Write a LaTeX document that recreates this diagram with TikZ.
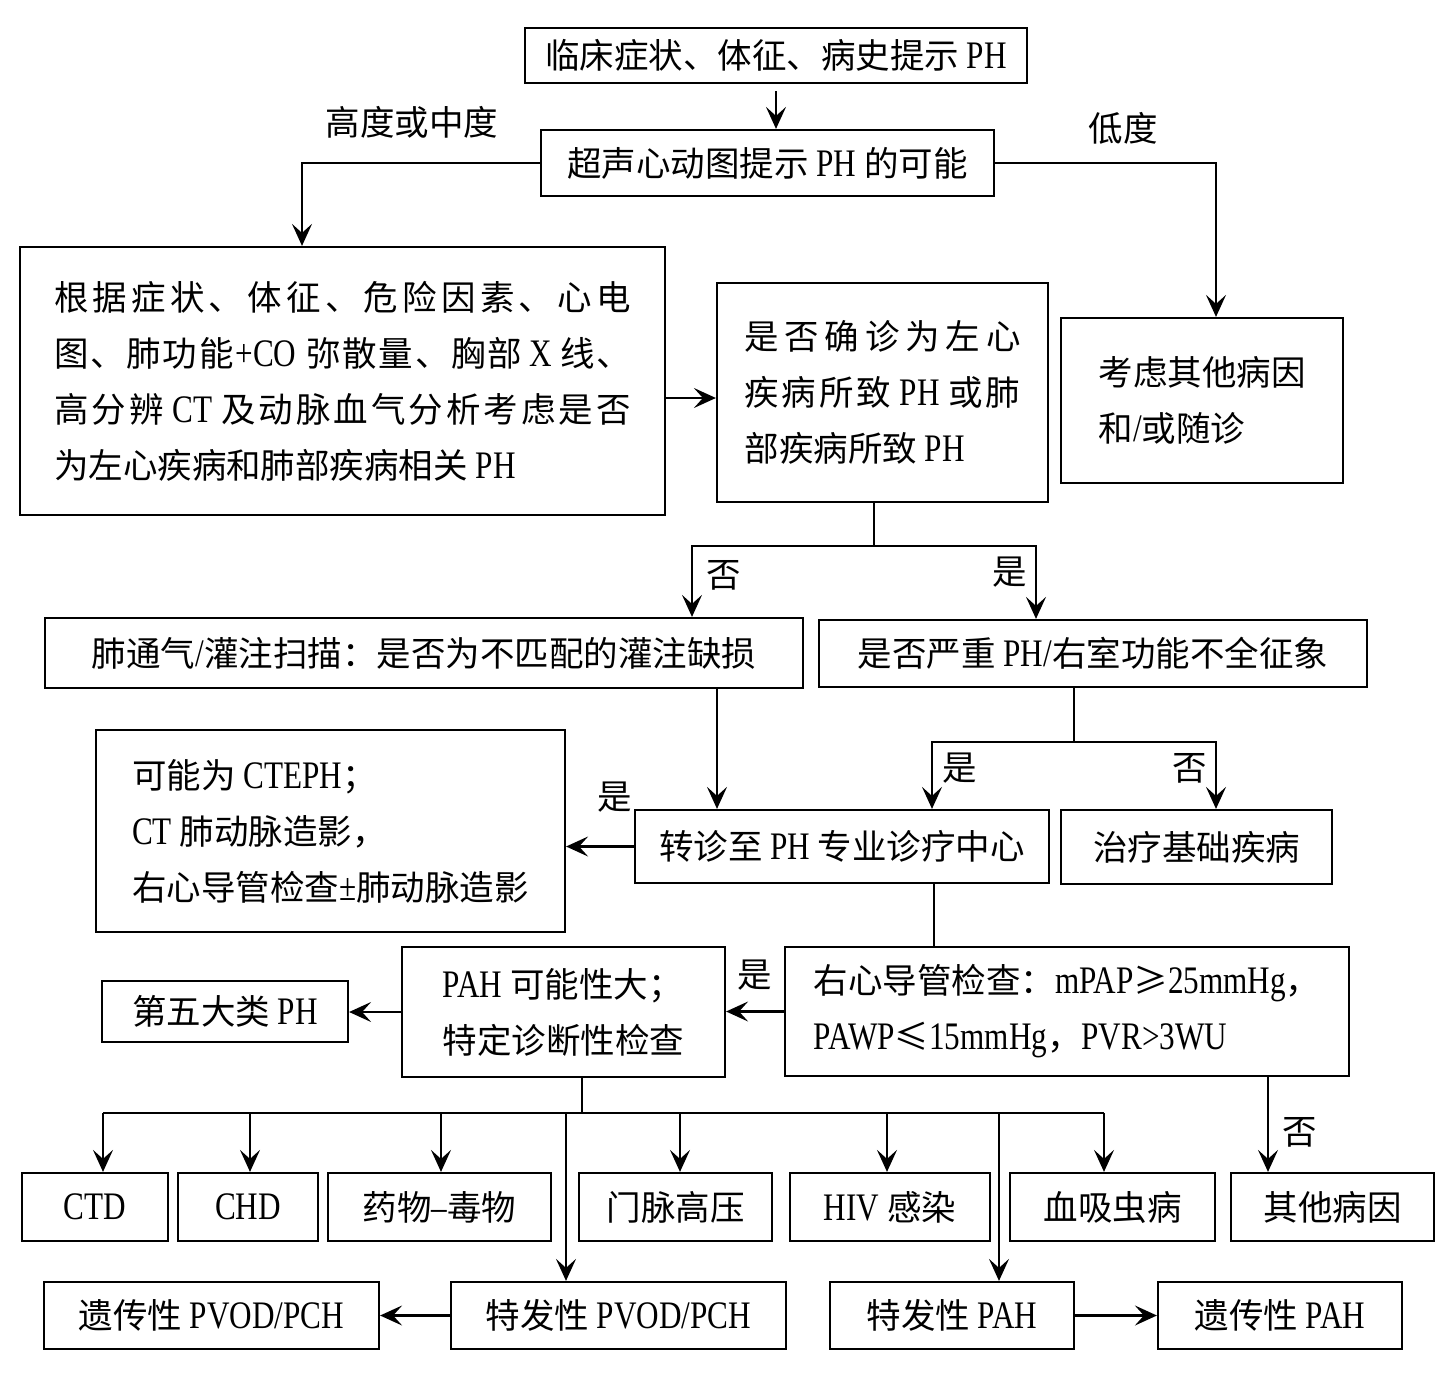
\documentclass[tikz,border=0pt]{standalone}
\usepackage{fontspec}
\setmainfont{Noto Sans CJK SC}
\newfontfamily\latf{Liberation Serif}[FakeStretch=0.8,Scale=1.13]
\newcommand\lt[1]{{\latf #1}}
\newcommand\spc[1]{\hskip6pt\lt{#1}\hskip6pt}
\usetikzlibrary{arrows.meta,calc}
\def\spreadaux#1{\ifx\relax#1\else{#1}\hfil\expandafter\spreadaux\fi}
\newcommand\spreadline[2]{\hbox to #1{\spreadaux#2\relax\unskip}}
\begin{document}
\begin{tikzpicture}[x=1pt,y=-1pt,
  every node/.style={font=\fontsize{34.5}{56}\selectfont},
  box/.style={draw,line width=2.2pt,inner sep=0pt,align=center},
  bx/.style n args={2}{box,minimum width=#1,minimum height=#2},
  arr/.style={line width=2.2pt,-{Stealth[length=22pt,width=20pt,inset=9pt]}},
  ln/.style={line width=2.2pt},
  lbl/.style={inner sep=0pt}]
\fill[white] (0,0) rectangle (1452,1384);
\useasboundingbox (0,0) rectangle (1452,1384);

% boxes
\node[bx={502}{55}] (b1) at (776,55.5) {临床症状、体征、病史提示 \lt{PH}};
\node[bx={453}{66}] (b2) at (767.5,163) {超声心动图提示 \lt{PH} 的可能};
\node[bx={645}{268},align=left] (b3) at (342.5,381) {\spreadline{577pt}{根据症状、体征、危险因素、心电}\\\spreadline{577pt}{图、肺功能{\hskip0pt\lt{+CO}\hskip8pt}弥散量、胸部{\spc{X}}线、}\\\spreadline{577pt}{高分辨{\spc{CT}}及动脉血气分析考虑是否}\\为左心疾病和肺部疾病相关 \lt{PH}};
\node[bx={331}{219},align=left] (b4) at (882.5,392.5) {\spreadline{276pt}{是否确诊为左心}\\\spreadline{276pt}{疾病所致{\spc{PH}}或肺}\\部疾病所致 \lt{PH}};
\node[bx={282}{165},align=left] (b5) at (1202,400.5) {考虑其他病因\\和\lt{/}或随诊};
\node[bx={758}{70}] (b6) at (424,653) {肺通气\lt{/}灌注扫描：是否为不匹配的灌注缺损};
\node[bx={548}{67}] (b7) at (1093,653.5) {是否严重 \lt{PH/}右室功能不全征象};
\node[bx={469}{202},align=left] (b8) at (330.5,831) {可能为 \lt{CTEPH}；\\\lt{CT} 肺动脉造影，\\右心导管检查\lt{±}肺动脉造影};
\node[bx={414}{73}] (b9) at (842,846.5) {转诊至 \lt{PH} 专业诊疗中心};
\node[bx={271}{74}] (b10) at (1196.5,847) {治疗基础疾病};
\node[bx={246}{61}] (b11) at (225,1011.5) {第五大类 \lt{PH}};
\node[bx={323}{130},align=left] (b12) at (563.5,1012) {\lt{PAH} 可能性大；\\特定诊断性检查};
\node[bx={564}{129},align=left] (b13) at (1067,1011.5) {右心导管检查：\lt{mPAP}≥\lt{25mmHg}，\\\lt{PAWP}≤\lt{15mmHg}，\lt{PVR>3WU}};

\node[bx={146}{68}] (r1) at (95,1207) {\lt{CTD}};
\node[bx={140}{68}] (r2) at (248,1207) {\lt{CHD}};
\node[bx={223}{68}] (r3) at (439.5,1207) {药物\lt{–}毒物};
\node[bx={193}{68}] (r4) at (675.5,1207) {门脉高压};
\node[bx={200}{68}] (r5) at (890,1207) {\lt{HIV} 感染};
\node[bx={205}{68}] (r6) at (1112.5,1207) {血吸虫病};
\node[bx={203}{68}] (r7) at (1332.5,1207) {其他病因};

\node[bx={335}{67}] (p1) at (211.5,1315.5) {遗传性 \lt{PVOD/PCH}};
\node[bx={335}{67}] (p2) at (618.5,1315.5) {特发性 \lt{PVOD/PCH}};
\node[bx={244}{67}] (p3) at (952,1315.5) {特发性 \lt{PAH}};
\node[bx={244}{67}] (p4) at (1280,1315.5) {遗传性 \lt{PAH}};

% labels
\node[lbl] (l1) at (412,122) {高度或中度};
\node[lbl] (l2) at (1123,128) {低度};
\node[lbl] (l3) at (724,575) {否};
\node[lbl] (l4) at (1010,572) {是};
\node[lbl] (l5) at (960,768) {是};
\node[lbl] (l6) at (1190,768) {否};
\node[lbl] (l7) at (615,797) {是};
\node[lbl] (l8) at (755,975) {是};
\node[lbl] (l9) at (1300,1132) {否};

% connectors
\draw[arr] ([yshift=-7pt]b1.south) -- (b1.south |- b2.north);
\coordinate (k1) at (302,0);
\draw[arr] (b2.west) -| (k1 |- b3.north);
\coordinate (k2) at (1216,0);
\draw[arr] (b2.east) -| (k2 |- b5.north);
\coordinate (k3) at (0,398);
\draw[arr] (k3 -| b3.east) -- (k3 -| b4.west);

\coordinate (j1) at (874,546);
\coordinate (j1l) at (692,546);
\coordinate (j1r) at (1036,546);
\draw[ln] (j1 |- b4.south) -- (j1);
\draw[arr] (j1) -- (j1l) -- (j1l |- b6.north);
\draw[arr] (j1) -- (j1r) -- (j1r |- b7.north);

\coordinate (k4) at (717,0);
\draw[arr] (k4 |- b6.south) -- (k4 |- b9.north);

\coordinate (j2) at (1074,742);
\coordinate (j2l) at (932,742);
\coordinate (j2r) at (1216,742);
\draw[ln] (j2 |- b7.south) -- (j2);
\draw[arr] (j2) -- (j2l) -- (j2l |- b9.north);
\draw[arr] (j2) -- (j2r) -- (j2r |- b10.north);

\draw[arr] (b9.west) -- (b9.west -| b8.east);
\coordinate (k5) at (934,0);
\draw[ln] (k5 |- b9.south) -- (k5 |- b13.north);
\draw[arr] (b13.west) -- (b13.west -| b12.east);
\draw[arr] (b12.west) -- (b12.west -| b11.east);

\coordinate (j3) at (582,1113);
\coordinate (j3a) at (103,1113);
\coordinate (j3b) at (250,1113);
\coordinate (j3c) at (441,1113);
\coordinate (j3d) at (680,1113);
\coordinate (j3e) at (887,1113);
\coordinate (j3f) at (1104,1113);
\coordinate (j3p) at (566,1113);
\coordinate (j3q) at (999,1113);
\draw[ln] (j3 |- b12.south) -- (j3);
\draw[ln] (j3a) -- (j3f);
\draw[arr] (j3a) -- (j3a |- r1.north);
\draw[arr] (j3b) -- (j3b |- r2.north);
\draw[arr] (j3c) -- (j3c |- r3.north);
\draw[arr] (j3d) -- (j3d |- r4.north);
\draw[arr] (j3e) -- (j3e |- r5.north);
\draw[arr] (j3f) -- (j3f |- r6.north);
\draw[arr] (j3p) -- (j3p |- p2.north);
\draw[arr] (j3q) -- (j3q |- p3.north);

\coordinate (k6) at (1268,0);
\draw[arr] (k6 |- b13.south) -- (k6 |- r7.north);
\draw[arr] (p2.west) -- (p2.west -| p1.east);
\draw[arr] (p3.east) -- (p3.east -| p4.west);
\end{tikzpicture}
\end{document}
